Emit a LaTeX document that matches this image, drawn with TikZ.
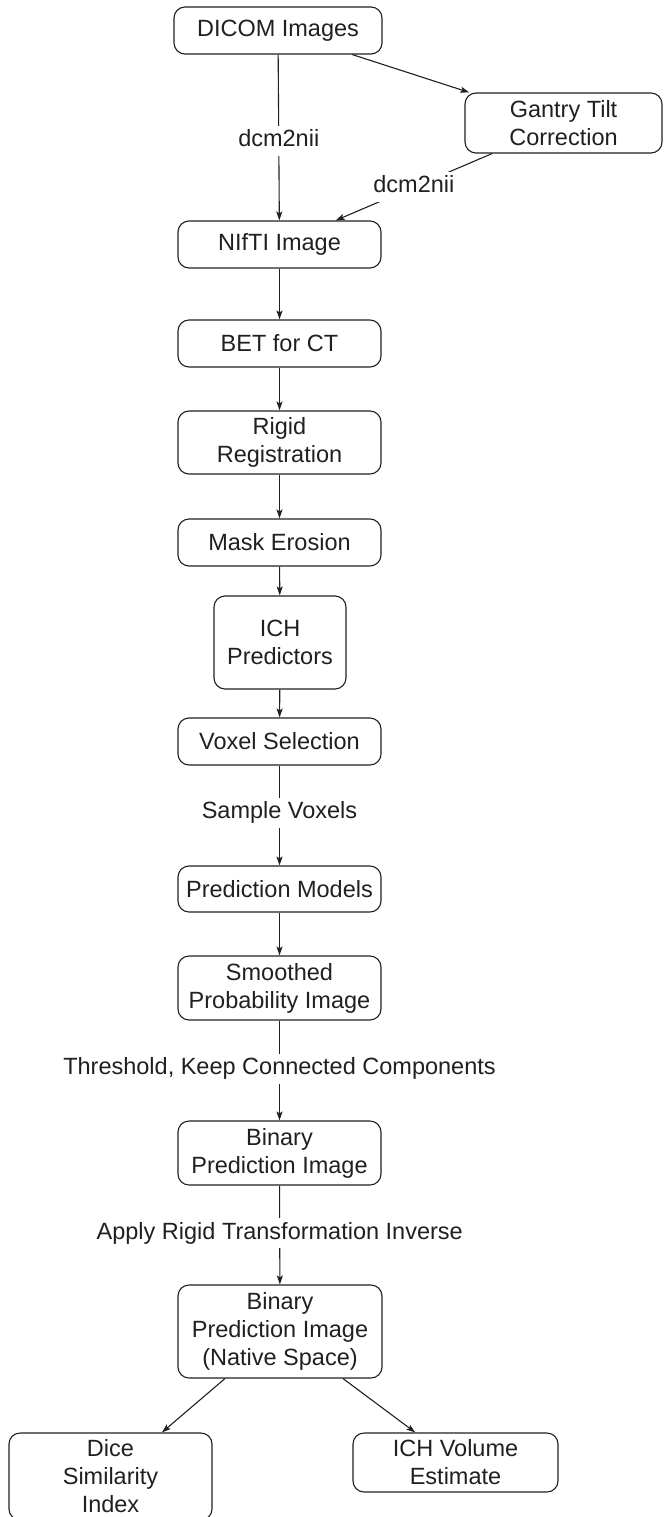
\documentclass[tikz,border=0pt]{standalone}
\usepackage{fontspec}
\setmainfont{Liberation Sans}
\usetikzlibrary{arrows.meta}
\definecolor{ink}{HTML}{231F20}
\begin{document}
\begin{tikzpicture}[x=1pt,y=-1pt,
  font=\fontsize{23.5}{28}\selectfont,
  every node/.style={text=ink},
  box/.style={draw=ink, line width=1.1pt, rounded corners=11pt, align=center,
    minimum width=203pt, minimum height=47pt, inner sep=2pt},
  lbl/.style={fill=white, inner sep=4pt, text height=17pt, text depth=5pt},
  conn/.style={draw=ink, line width=1.1pt, -{Stealth[length=9pt,width=6pt,inset=2pt]}}
]
\useasboundingbox (0,0) rectangle (665,1517);
\node[box, minimum width=208pt] (dicom) at (278,30.5) {DICOM Images};
\node[box, minimum width=197pt, minimum height=60pt] (gantry) at (563.5,123) {Gantry Tilt\\Correction};
\node[box] (nifti) at (279.5,244.5) {NIfTI Image};
\node[box] (bet) at (279.5,343.5) {BET for CT};
\node[box, minimum height=63pt] (rigid) at (279.5,442.5) {Rigid\\Registration};
\node[box] (mask) at (279.5,542.5) {Mask Erosion};
\node[box, minimum width=132pt, minimum height=93pt] (ich) at (280,642.5) {ICH\\Predictors};
\node[box] (voxel) at (279.5,741.5) {Voxel Selection};
\node[box, minimum height=46pt] (predmod) at (279.5,889) {Prediction Models};
\node[box, minimum height=64pt] (smooth) at (279.5,988) {Smoothed\\Probability Image};
\node[box, minimum height=64pt] (binary) at (279.5,1153) {Binary\\Prediction Image};
\node[box, minimum width=204pt, minimum height=93pt] (native) at (280,1331.5) {Binary\\Prediction Image\\(Native Space)};
\node[box, minimum height=87pt] (dice) at (110.5,1476.5) {Dice\\Similarity\\Index};
\node[box, minimum width=205pt, minimum height=59pt] (volume) at (455.5,1462.5) {ICH Volume\\Estimate};

\draw[conn] (dicom) -- node[lbl, pos=0.52] {dcm2nii} (nifti);
\draw[conn] (dicom) -- (gantry);
\draw[conn] (gantry) -- node[lbl] {dcm2nii} (nifti);
\draw[conn] (nifti) -- (bet);
\draw[conn] (bet) -- (rigid);
\draw[conn] (rigid) -- (mask);
\draw[conn] (mask) -- (ich);
\draw[conn] (ich) -- (voxel);
\draw[conn] (voxel) -- node[lbl, pos=0.47] {Sample Voxels} (predmod);
\draw[conn] (predmod) -- (smooth);
\draw[conn] (smooth) -- node[lbl, pos=0.48] {Threshold, Keep Connected Components} (binary);
\draw[conn] (binary) -- node[lbl, pos=0.48] {Apply Rigid Transformation Inverse} (native);
\draw[conn] (native) -- (dice);
\draw[conn] (native) -- (volume);
\end{tikzpicture}
\end{document}
